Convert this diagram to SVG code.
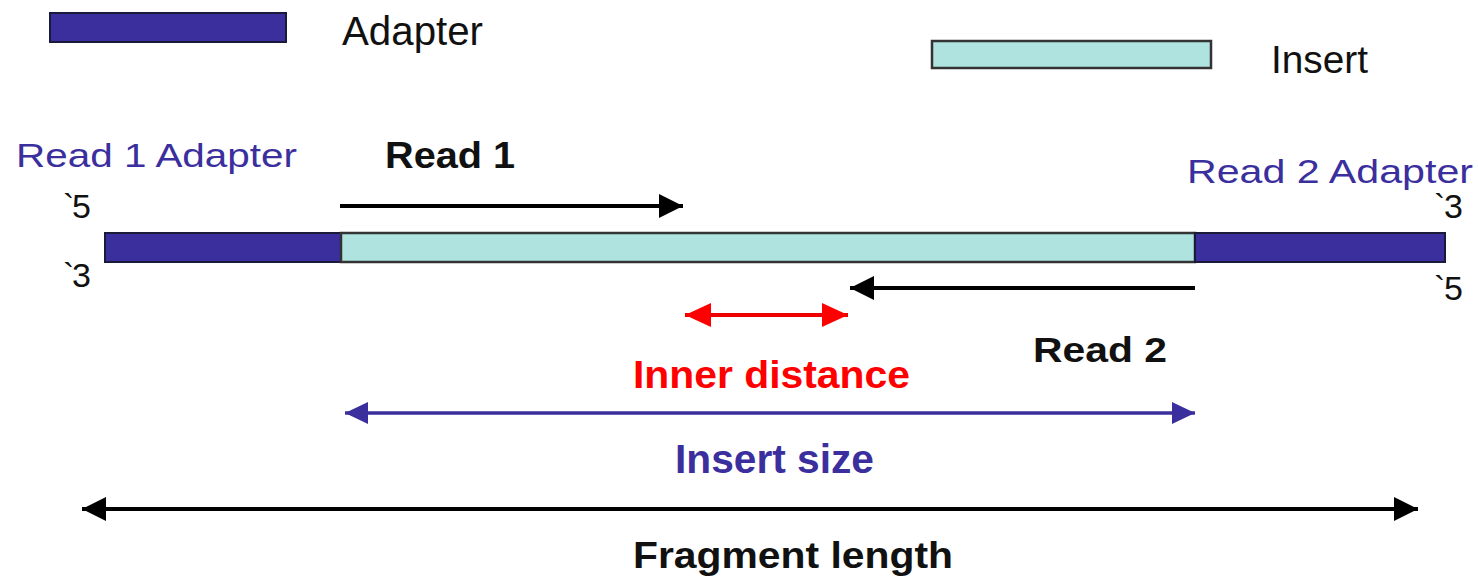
<svg xmlns="http://www.w3.org/2000/svg" width="1478" height="578" viewBox="0 0 1478 578">
<style>
text{font-family:"Liberation Sans",Arial,sans-serif;fill:#111;}
.blue{fill:#3b2f9e;}
.bold{font-weight:bold;}
.end{font-size:34px;}
.adapter{fill:#3a2f9c;stroke:#1a1a3a;stroke-width:2;}
.insert{fill:#aee3e0;stroke:#333;stroke-width:2.5;}
</style>
<defs>
<marker id="ab" viewBox="0 0 24 24" refX="24" refY="12" markerWidth="24" markerHeight="24" orient="auto-start-reverse" markerUnits="userSpaceOnUse"><path d="M0,0 L24,12 L0,24 z" fill="#000"/></marker>
<marker id="ar" viewBox="0 0 26 24" refX="26" refY="12" markerWidth="26" markerHeight="24" orient="auto-start-reverse" markerUnits="userSpaceOnUse"><path d="M0,0 L26,12 L0,24 z" fill="#f00"/></marker>
<marker id="au" viewBox="0 0 23 22" refX="23" refY="11" markerWidth="23" markerHeight="22" orient="auto-start-reverse" markerUnits="userSpaceOnUse"><path d="M0,0 L23,11 L0,22 z" fill="#3a2f9c"/></marker>
</defs>
<rect width="1478" height="578" fill="#fff"/>
<g id="legend-adapter">
<rect class="adapter" x="50" y="13" width="236" height="29"/>
<text x="342" y="45" font-size="41" textLength="141" lengthAdjust="spacingAndGlyphs">Adapter</text>
</g>
<g id="legend-insert">
<rect class="insert" x="932" y="41" width="279" height="27"/>
<text x="1271" y="73" font-size="39" textLength="97" lengthAdjust="spacingAndGlyphs">Insert</text>
</g>
<g id="fragment">
<rect class="adapter" x="105" y="233" width="236" height="29"/>
<rect class="insert" x="341" y="233" width="854" height="29"/>
<rect class="adapter" x="1195" y="233" width="250" height="29"/>
</g>
<g id="labels">
<text class="blue" x="16" y="167" font-size="34" textLength="281" lengthAdjust="spacingAndGlyphs">Read 1 Adapter</text>
<text class="blue" x="1187" y="183" font-size="33" textLength="286" lengthAdjust="spacingAndGlyphs">Read 2 Adapter</text>
<text class="end" x="63" y="218">`<tspan x="72">5</tspan></text>
<text class="end" x="63" y="287">`<tspan x="72">3</tspan></text>
<text class="end" x="1434" y="218">`<tspan x="1444">3</tspan></text>
<text class="end" x="1434" y="300">`<tspan x="1444">5</tspan></text>
<text class="bold" x="385" y="168" font-size="36" textLength="130" lengthAdjust="spacingAndGlyphs">Read 1</text>
<text class="bold" x="1033" y="362" font-size="35" textLength="134" lengthAdjust="spacingAndGlyphs">Read 2</text>
<text class="bold" x="633" y="388" font-size="39" textLength="277" lengthAdjust="spacingAndGlyphs" style="fill:#f00">Inner distance</text>
<text class="bold" x="675" y="473" font-size="41" textLength="199" lengthAdjust="spacingAndGlyphs" style="fill:#3b2f9e">Insert size</text>
<text class="bold" x="633" y="568" font-size="37" textLength="320" lengthAdjust="spacingAndGlyphs">Fragment length</text>
</g>
<g id="connectors" fill="none">
<line x1="340" y1="206" x2="683" y2="206" stroke="#000" stroke-width="4" marker-end="url(#ab)"/>
<line x1="1195" y1="288" x2="850" y2="288" stroke="#000" stroke-width="4" marker-end="url(#ab)"/>
<line x1="685" y1="315" x2="848" y2="315" stroke="#e00" stroke-width="4" marker-start="url(#ar)" marker-end="url(#ar)"/>
<line x1="345" y1="413" x2="1195" y2="413" stroke="#3a2f9c" stroke-width="3.5" marker-start="url(#au)" marker-end="url(#au)"/>
<line x1="82" y1="509" x2="1418" y2="509" stroke="#000" stroke-width="4" marker-start="url(#ab)" marker-end="url(#ab)"/>
</g>
</svg>
